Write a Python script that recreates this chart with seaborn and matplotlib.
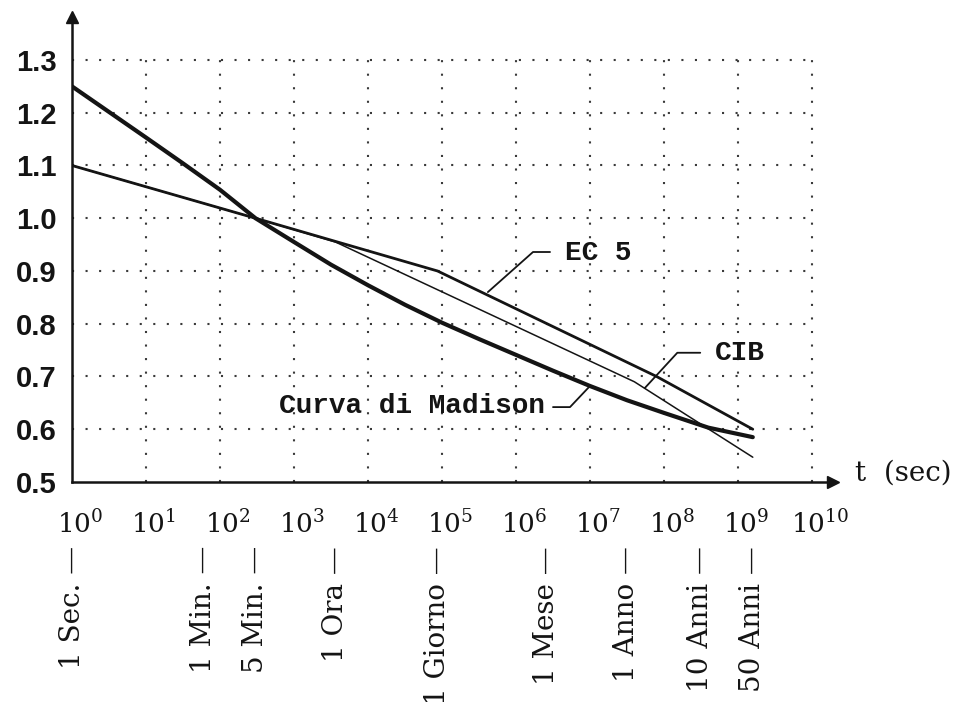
import numpy as np
import pandas as pd
import matplotlib
matplotlib.use("Agg")
import matplotlib.pyplot as plt
import matplotlib.ticker as mticker
from matplotlib.transforms import ScaledTranslation
import seaborn as sns

# Load duration is given as log10(seconds); k is the strength modification factor
madison_logt = [0, 1, 1.5, 2, 2.48, 3, 3.5, 4, 4.5, 5, 5.5, 6, 6.5, 7, 7.5, 8, 8.6, 9.2]
madison_k = [1.25, 1.153, 1.104, 1.054, 1.0, 0.955, 0.912, 0.873, 0.836, 0.802,
             0.771, 0.741, 0.711, 0.682, 0.655, 0.631, 0.603, 0.585]

ec5_logt = [0, 2.48, 4.94, 7.9, 9.2]
ec5_k = [1.1, 1.0, 0.9, 0.7, 0.6]

cib_logt = [0, 2.48, 3.56, 7.6, 9.2]
cib_k = [1.1, 1.0, 0.955, 0.69, 0.547]

# Reference durations marked under the time axis
duration_sec = [1, 60, 300, 3600, 86400, 2.592e6, 3.156e7, 3.156e8, 1.578e9]
duration_names = ["1 Sec.", "1 Min.", "5 Min.", "1 Ora", "1 Giorno",
                  "1 Mese", "1 Anno", "10 Anni", "50 Anni"]

decades = list(range(11))
y_ticks = [0.5, 0.6, 0.7, 0.8, 0.9, 1.0, 1.1, 1.2, 1.3]
y_labels = ["0.5", "0.6", "0.7", "0.8", "0.9", "1.0", "1.1", "1.2", "1.3"]

sns.set_style("white")
plt.rcParams["font.family"] = ["DejaVu Serif"]
plt.rcParams["mathtext.fontset"] = "dejavuserif"

ink = "#141414"
fig = plt.figure(figsize=(9.55, 7.02), dpi=100)
ax = fig.add_axes([72 / 955, 1 - 482 / 702, (833 - 72) / 955, (482 - 17) / 702])

series = [
    ("Curva di Madison", madison_logt, madison_k, 3.0),
    ("EC 5", ec5_logt, ec5_k, 2.0),
    ("CIB", cib_logt, cib_k, 1.1),
]
for name, lt, k, lw in series:
    df = pd.DataFrame({"t": 10.0 ** np.asarray(lt), "k": k})
    sns.lineplot(data=df, x="t", y="k", ax=ax, color=ink, lw=lw,
                 estimator=None, sort=False, legend=False, zorder=3)

ax.set_xscale("log")
ax.set_xlim(1, 10 ** 10.284)
ax.set_ylim(0.5, 1.3815)
ax.set_xlabel("")
ax.set_ylabel("")

# dotted grid restricted to the 0.5-1.3 / 10^0-10^10 box
dot = (0, (1, 5.5))
ax.hlines(y_ticks[1:], 1, 1e10, colors="#3a3a3a", linestyles=dot, lw=1.5, zorder=1)
ax.vlines(10.0 ** np.asarray(decades[1:]), 0.5, 1.3, colors="#3a3a3a",
          linestyles=dot, lw=1.5, zorder=1)

# axes drawn as arrows
for s in ("top", "right"):
    ax.spines[s].set_visible(False)
for s in ("left", "bottom"):
    ax.spines[s].set_linewidth(1.8)
    ax.spines[s].set_color(ink)
ax.plot(1, 0, ">", color=ink, ms=8, transform=ax.transAxes, clip_on=False)
ax.plot(0, 1, "^", color=ink, ms=8, transform=ax.transAxes, clip_on=False)

# y axis
ax.set_yticks(y_ticks)
ax.set_yticklabels(y_labels)
ax.tick_params(axis="y", direction="inout", length=16, width=1.8, pad=3,
               labelsize=21, colors=ink)
for lab in ax.get_yticklabels():
    lab.set_fontfamily("Liberation Sans")
    lab.set_fontweight("bold")

# x axis: decades as major ticks, named durations as minor ticks
ax.set_xticks(10.0 ** np.asarray(decades))
ax.set_xticklabels([rf"$10^{{{n}}}$" for n in decades])
ax.xaxis.remove_overlapping_locs = False
ax.xaxis.set_minor_locator(mticker.FixedLocator(duration_sec))
ax.xaxis.set_minor_formatter(mticker.FixedFormatter([f"{n} —" for n in duration_names]))
ax.tick_params(axis="x", which="major", direction="inout", length=12, width=1.5,
               pad=14, labelsize=19, colors=ink)
ax.tick_params(axis="x", which="minor", direction="inout", length=24, width=1.5,
               pad=34, labelsize=20, labelrotation=90, colors=ink)
shift = ScaledTranslation(8 / 100, 0, fig.dpi_scale_trans)
for lab in ax.get_xticklabels(which="major"):
    lab.set_transform(lab.get_transform() + shift)

# curve labels with leader lines
mono = "Liberation Mono"
ax.plot(10.0 ** np.array([6.46, 6.23, 5.62]), [0.936, 0.936, 0.860], color=ink, lw=1.3, zorder=3)
ax.text(10 ** 6.66, 0.934, "EC 5", family=mono, fontsize=20, fontweight="bold",
        va="center", ha="left", color=ink)

ax.plot(10.0 ** np.array([8.49, 8.18, 7.74]), [0.745, 0.745, 0.678], color=ink, lw=1.3, zorder=3)
ax.text(10 ** 8.69, 0.745, "CIB", family=mono, fontsize=20, fontweight="bold",
        va="center", ha="left", color=ink)

ax.plot(10.0 ** np.array([6.5, 6.73, 7.0]), [0.642, 0.642, 0.682], color=ink, lw=1.3, zorder=3)
ax.text(10 ** 6.39, 0.645, "Curva di Madison", family=mono, fontsize=20, fontweight="bold",
        va="center", ha="right", color=ink)

ax.text(10 ** 10.58, 0.517, "t  (sec)", fontsize=20, va="center", ha="left",
        color=ink, clip_on=False)

fig.savefig("out.png", dpi=100, facecolor="white")
